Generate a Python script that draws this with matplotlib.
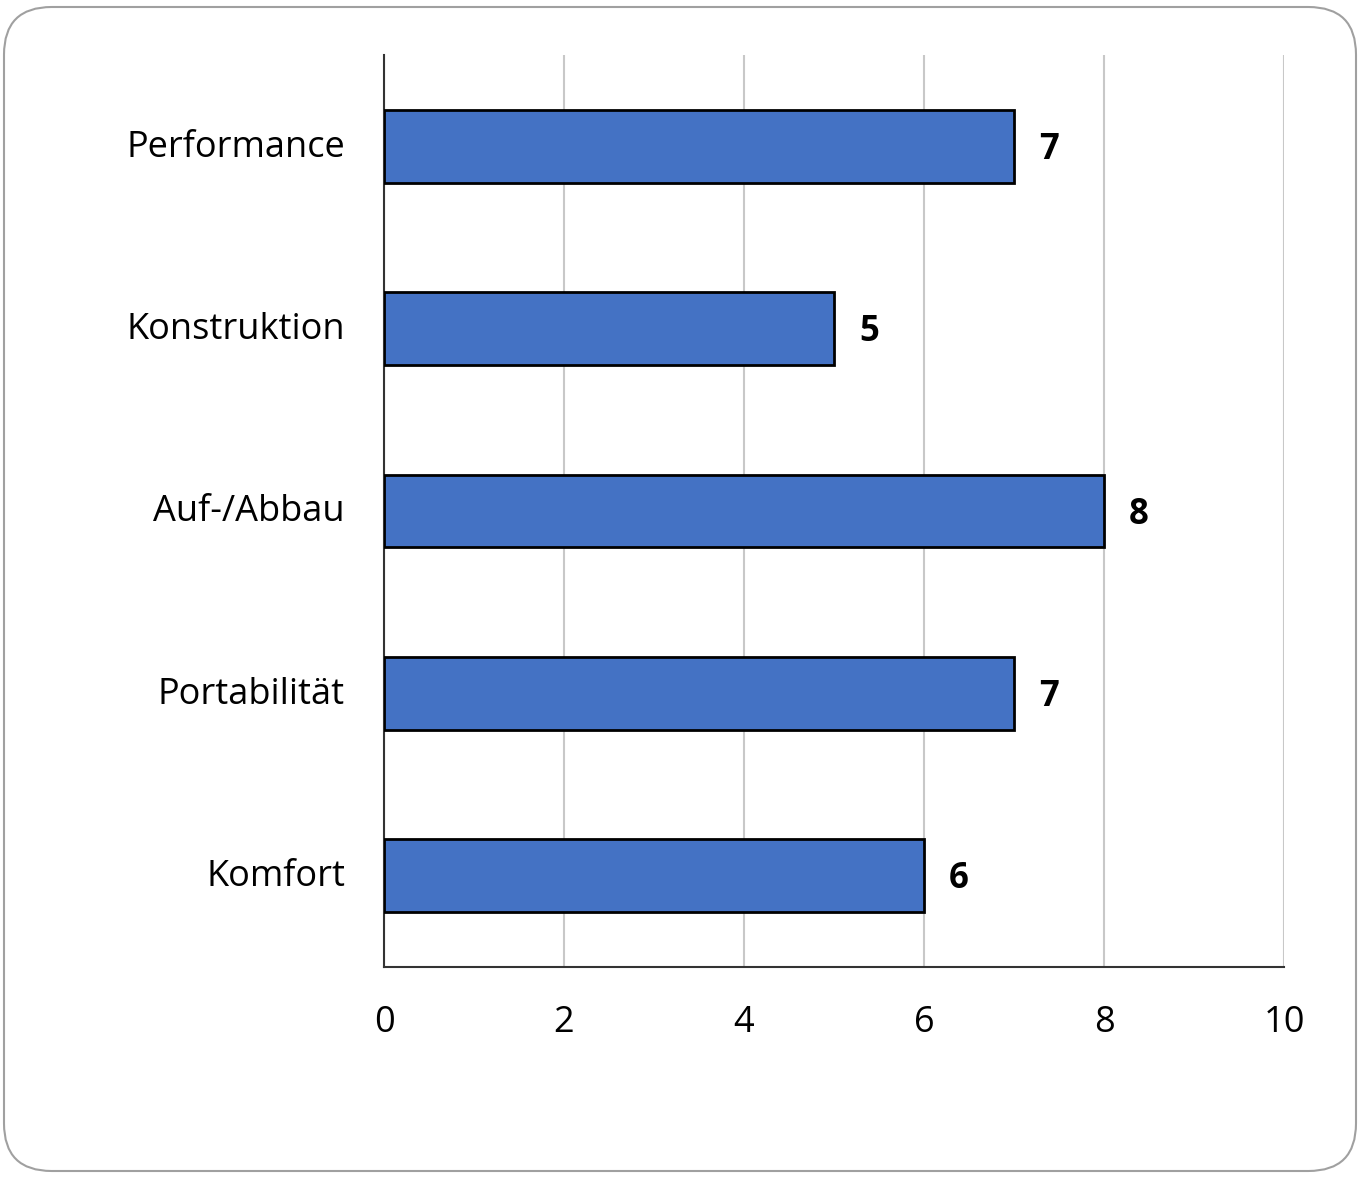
import matplotlib.pyplot as plt
import matplotlib.transforms as mtransforms
from matplotlib.patches import FancyBboxPatch

kategorien = ['Performance', 'Konstruktion', 'Auf-/Abbau', 'Portabilität', 'Komfort']
werte = [7, 5, 8, 7, 6]
x_ticks = [0, 2, 4, 6, 8, 10]

plt.rcParams['font.family'] = ['Open Sans', 'DejaVu Sans']

fig = plt.figure(figsize=(13.61, 11.77), dpi=100)
ax = fig.add_axes([384 / 1361, 1 - 967 / 1177, 900 / 1361, 912 / 1177])

y = list(range(len(kategorien)))
ax.barh(y, werte, height=0.4, color='#4472C4', edgecolor='black', linewidth=2, zorder=3)

for yi, v in zip(y, werte):
    ax.text(v + 0.28, yi + 0.02, str(v), va='center', ha='left',
            fontsize=25, fontweight='bold', color='black')

ax.set_xlim(0, 10)
ax.set_ylim(len(kategorien) - 0.5, -0.5)
ax.set_yticks(y)
ax.set_yticklabels(kategorien, fontsize=26)
ax.set_xticks(x_ticks)
ax.set_xticklabels([str(t) for t in x_ticks], fontsize=26)
ax.tick_params(axis='both', length=0)
ax.tick_params(axis='y', pad=28)
ax.tick_params(axis='x', pad=27)

# Kategorienbeschriftung ein wenig nach oben schieben
versatz = mtransforms.ScaledTranslation(0, 3 / 100, fig.dpi_scale_trans)
for lab in ax.get_yticklabels():
    lab.set_transform(lab.get_transform() + versatz)

ax.xaxis.grid(True, color='#C8C8C8', linewidth=1.5, zorder=0)
for s in ['top', 'right']:
    ax.spines[s].set_visible(False)
ax.spines['left'].set_color('#333333')
ax.spines['bottom'].set_color('#333333')
ax.spines['left'].set_linewidth(1.5)
ax.spines['bottom'].set_linewidth(1.5)

rahmen = FancyBboxPatch((4 / 1361, 6 / 1177), 1352 / 1361, 1164 / 1177,
                        boxstyle='round,pad=0,rounding_size=0.035',
                        transform=fig.transFigure, facecolor='none',
                        edgecolor='#A0A0A0', linewidth=1.5, mutation_aspect=1361 / 1177)
fig.patches.append(rahmen)

fig.savefig('out.png', dpi=100)
